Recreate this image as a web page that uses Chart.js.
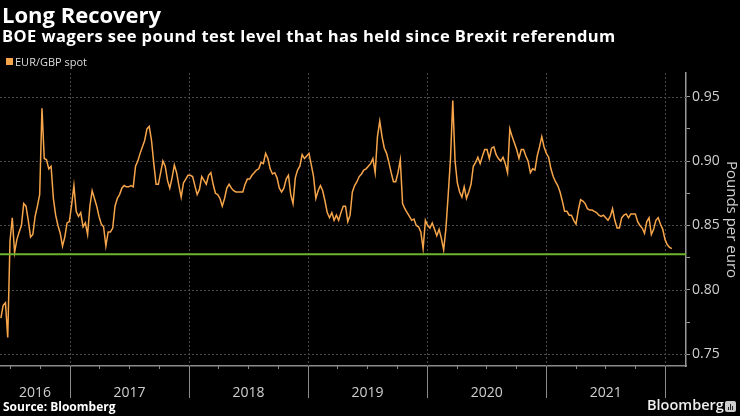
<!DOCTYPE html>
<html>
<head>
<meta charset="utf-8">
<script src="https://cdn.jsdelivr.net/npm/chart.js"></script>
<style>
  html, body { margin: 0; padding: 0; background: #000; }
  #wrap { position: relative; width: 740px; height: 416px; background: #000; overflow: hidden;
          font-family: "Open Sans", sans-serif; color: #fff; }
  #wrap canvas { position: absolute; left: 0; top: 0; }
  .t { position: absolute; white-space: nowrap; }
  #title { left: 2px; top: 2.5px; font-size: 22px; line-height: 22px; font-weight: 700; }
  #sub { left: 2px; top: 27.5px; font-size: 16.5px; line-height: 16.5px; font-weight: 700; letter-spacing: 0.45px; }
  #legend { left: 15px; top: 56px; font-size: 11px; line-height: 11px; color: #ddd; }
  #legend i { position: absolute; left: -9px; top: 2px; width: 7px; height: 7px; background: #f6a54a; }
  #source { left: 3px; top: 401px; font-size: 12px; line-height: 12px; font-weight: 700; }
  #brand { left: 647px; top: 398px; font-size: 14.5px; line-height: 14.5px; font-weight: 600; color: #eee; }
  #icon { position: absolute; left: 725px; top: 401px; width: 11px; height: 11px; background: #ccc; border-radius: 2px; }
  #icon b { position: absolute; bottom: 2px; width: 1px; background: #222; }
</style>
</head>
<body>
<div id="wrap">
  <canvas id="chart" width="740" height="416"></canvas>
  <div class="t" id="title">Long Recovery</div>
  <div class="t" id="sub">BOE wagers see pound test level that has held since Brexit referendum</div>
  <div class="t" id="legend"><i></i>EUR/GBP spot</div>
  <div class="t" id="source">Source: Bloomberg</div>
  <div class="t" id="brand">Bloomberg</div>
  <div id="icon"><b style="left:3px;height:3px"></b><b style="left:5px;height:6px"></b><b style="left:7px;height:4px"></b></div>
</div>
<script>
// weekly EUR/GBP readings, first one on 3 Jun 2016
var firstDate = '2016-06-03';
var spot = [
  0.778, 0.788, 0.790, 0.763, 0.838, 0.856, 0.829, 0.839, 0.845, 0.850,
  0.867, 0.865, 0.854, 0.841, 0.843, 0.857, 0.865, 0.874, 0.941, 0.902,
  0.901, 0.894, 0.896, 0.871, 0.858, 0.850, 0.844, 0.834, 0.841, 0.852,
  0.853, 0.866, 0.881, 0.861, 0.857, 0.860, 0.849, 0.852, 0.843, 0.865,
  0.877, 0.871, 0.865, 0.857, 0.851, 0.849, 0.834, 0.845, 0.845, 0.848,
  0.865, 0.871, 0.874, 0.879, 0.881, 0.880, 0.880, 0.881, 0.880, 0.896,
  0.900, 0.906, 0.911, 0.916, 0.925, 0.927, 0.916, 0.898, 0.882, 0.882,
  0.891, 0.900, 0.896, 0.885, 0.879, 0.887, 0.897, 0.891, 0.881, 0.872,
  0.883, 0.886, 0.889, 0.889, 0.888, 0.881, 0.874, 0.878, 0.888, 0.885,
  0.882, 0.889, 0.891, 0.882, 0.875, 0.874, 0.871, 0.865, 0.871, 0.879,
  0.882, 0.879, 0.877, 0.876, 0.876, 0.876, 0.876, 0.882, 0.886, 0.886,
  0.889, 0.891, 0.893, 0.894, 0.899, 0.898, 0.906, 0.902, 0.894, 0.890,
  0.891, 0.887, 0.879, 0.876, 0.879, 0.886, 0.889, 0.874, 0.867, 0.887,
  0.893, 0.896, 0.905, 0.902, 0.904, 0.906, 0.897, 0.888, 0.871, 0.877,
  0.881, 0.877, 0.869, 0.860, 0.856, 0.860, 0.854, 0.858, 0.854, 0.860,
  0.865, 0.865, 0.853, 0.858, 0.876, 0.881, 0.884, 0.888, 0.890, 0.893,
  0.894, 0.896, 0.898, 0.902, 0.891, 0.919, 0.931, 0.919, 0.910, 0.906,
  0.899, 0.891, 0.884, 0.884, 0.891, 0.901, 0.867, 0.863, 0.860, 0.857,
  0.854, 0.855, 0.850, 0.849, 0.845, 0.832, 0.854, 0.850, 0.848, 0.852,
  0.847, 0.842, 0.847, 0.840, 0.831, 0.848, 0.874, 0.902, 0.947, 0.900,
  0.883, 0.876, 0.872, 0.880, 0.871, 0.876, 0.882, 0.896, 0.899, 0.903,
  0.898, 0.904, 0.909, 0.909, 0.902, 0.910, 0.911, 0.905, 0.902, 0.900,
  0.903, 0.898, 0.891, 0.925, 0.919, 0.914, 0.909, 0.902, 0.909, 0.909,
  0.904, 0.900, 0.891, 0.894, 0.893, 0.904, 0.911, 0.919, 0.911, 0.906,
  0.903, 0.894, 0.888, 0.884, 0.881, 0.876, 0.869, 0.861, 0.861, 0.858,
  0.858, 0.854, 0.851, 0.862, 0.870, 0.869, 0.867, 0.863, 0.862, 0.862,
  0.861, 0.860, 0.858, 0.857, 0.858, 0.856, 0.854, 0.857, 0.863, 0.854,
  0.848, 0.848, 0.856, 0.858, 0.859, 0.856, 0.859, 0.859, 0.859, 0.853,
  0.850, 0.848, 0.844, 0.853, 0.856, 0.843, 0.847, 0.854, 0.856, 0.851,
  0.847, 0.839, 0.835, 0.833, 0.832
];
var testLevel = 0.8276;           // level held since the referendum
var years = ['2016', '2017', '2018', '2019', '2020', '2021'];
var yTicks = [0.75, 0.775, 0.80, 0.825, 0.85, 0.875, 0.90, 0.925, 0.95];

// x axis in days counted from 1 Jan 2017
function dayOf(s) {
  return (Date.parse(s + 'T00:00:00Z') - Date.parse('2017-01-01T00:00:00Z')) / 864e5;
}
var X_MIN = -214.7, X_MAX = 1889.3;
var Y_MIN = 0.7409, Y_MAX = 0.9684;

var start = dayOf(firstDate);
var spotPoints = spot.map(function (v, i) { return { x: start + 7 * i, y: v }; });

function isMajor(v) { return Math.abs(v * 20 - Math.round(v * 20)) < 1e-6; }

var gridPlugin = {
  id: 'bbgGrid',
  beforeDatasetsDraw: function (chart) {
    var c = chart.ctx, a = chart.chartArea, xs = chart.scales.x, ys = chart.scales.y;
    c.save();
    c.strokeStyle = '#4a4a4a';
    c.lineWidth = 1;
    c.setLineDash([2, 2]);
    yTicks.filter(isMajor).forEach(function (v) {
      var y = Math.round(ys.getPixelForValue(v)) + 0.5;
      c.beginPath(); c.moveTo(a.left, y); c.lineTo(a.right, y); c.stroke();
    });
    for (var yr = 2017; yr <= 2022; yr++) {
      var x = Math.round(xs.getPixelForValue(dayOf(yr + '-01-01'))) + 0.5;
      c.beginPath(); c.moveTo(x, a.top); c.lineTo(x, a.bottom); c.stroke();
    }
    c.restore();
  },
  afterDraw: function (chart) {
    var c = chart.ctx, a = chart.chartArea, xs = chart.scales.x;
    c.save();
    c.strokeStyle = '#8a8a8a';
    c.lineWidth = 1;
    for (var yr = 2016; yr <= 2022; yr++) {
      ['-01-01', '-04-01', '-07-01', '-10-01'].forEach(function (md, q) {
        var d = dayOf(yr + md);
        if (d < X_MIN || d > X_MAX) return;
        var x = Math.round(xs.getPixelForValue(d)) + 0.5;
        c.beginPath(); c.moveTo(x, a.bottom); c.lineTo(x, a.bottom + (q === 0 ? 32 : 3)); c.stroke();
      });
    }
    c.fillStyle = '#cfcfcf';
    c.font = '14px "Open Sans"';
    c.textAlign = 'center';
    c.textBaseline = 'alphabetic';
    years.forEach(function (y) {
      var d0 = Math.max(dayOf(y + '-01-01'), X_MIN);
      var d1 = Math.min(dayOf((+y + 1) + '-01-01'), X_MAX);
      var x = (xs.getPixelForValue(d0) + xs.getPixelForValue(d1)) / 2;
      c.fillText(y, x, 396.5);
    });
    c.restore();
  }
};

var ctx = document.getElementById('chart').getContext('2d');
var chart = new Chart(ctx, {
  type: 'line',
  data: {
    datasets: [{
      label: 'EUR/GBP spot',
      data: spotPoints,
      borderColor: '#f6a54a',
      borderWidth: 1.5,
      pointRadius: 0,
      tension: 0,
      order: 1
    }, {
      label: 'Test level',
      data: [{ x: X_MIN, y: testLevel }, { x: X_MAX, y: testLevel }],
      borderColor: '#6db52b',
      borderWidth: 2,
      pointRadius: 0,
      order: 0
    }]
  },
  options: {
    responsive: false,
    animation: false,
    events: [],
    layout: { padding: { top: 73, left: 0, right: 0, bottom: 0 } },
    plugins: { legend: { display: false }, tooltip: { enabled: false }, title: { display: false } },
    scales: {
      x: {
        type: 'linear', min: X_MIN, max: X_MAX,
        afterFit: function (s) { s.height = 50; },
        ticks: { display: false },
        grid: { display: false },
        border: { display: true, color: '#8a8a8a', width: 1.5 }
      },
      y: {
        position: 'right', min: Y_MIN, max: Y_MAX,
        afterFit: function (s) { s.width = 54; },
        afterBuildTicks: function (s) { s.ticks = yTicks.map(function (v) { return { value: v }; }); },
        ticks: {
          color: '#d0d0d0', padding: 2, autoSkip: false,
          font: { family: 'Open Sans', size: 14 },
          callback: function (v) { return isMajor(v) ? v.toFixed(2) : ''; }
        },
        grid: { drawOnChartArea: false, drawTicks: true, tickLength: 4, color: '#9a9a9a' },
        border: { display: true, color: '#9a9a9a', width: 1.5 },
        title: { display: true, text: 'Pounds per euro', color: '#d0d0d0',
                 font: { family: 'Open Sans', size: 15 }, padding: { top: 0, bottom: 3 } }
      }
    }
  },
  plugins: [gridPlugin]
});
</script>
</body>
</html>
